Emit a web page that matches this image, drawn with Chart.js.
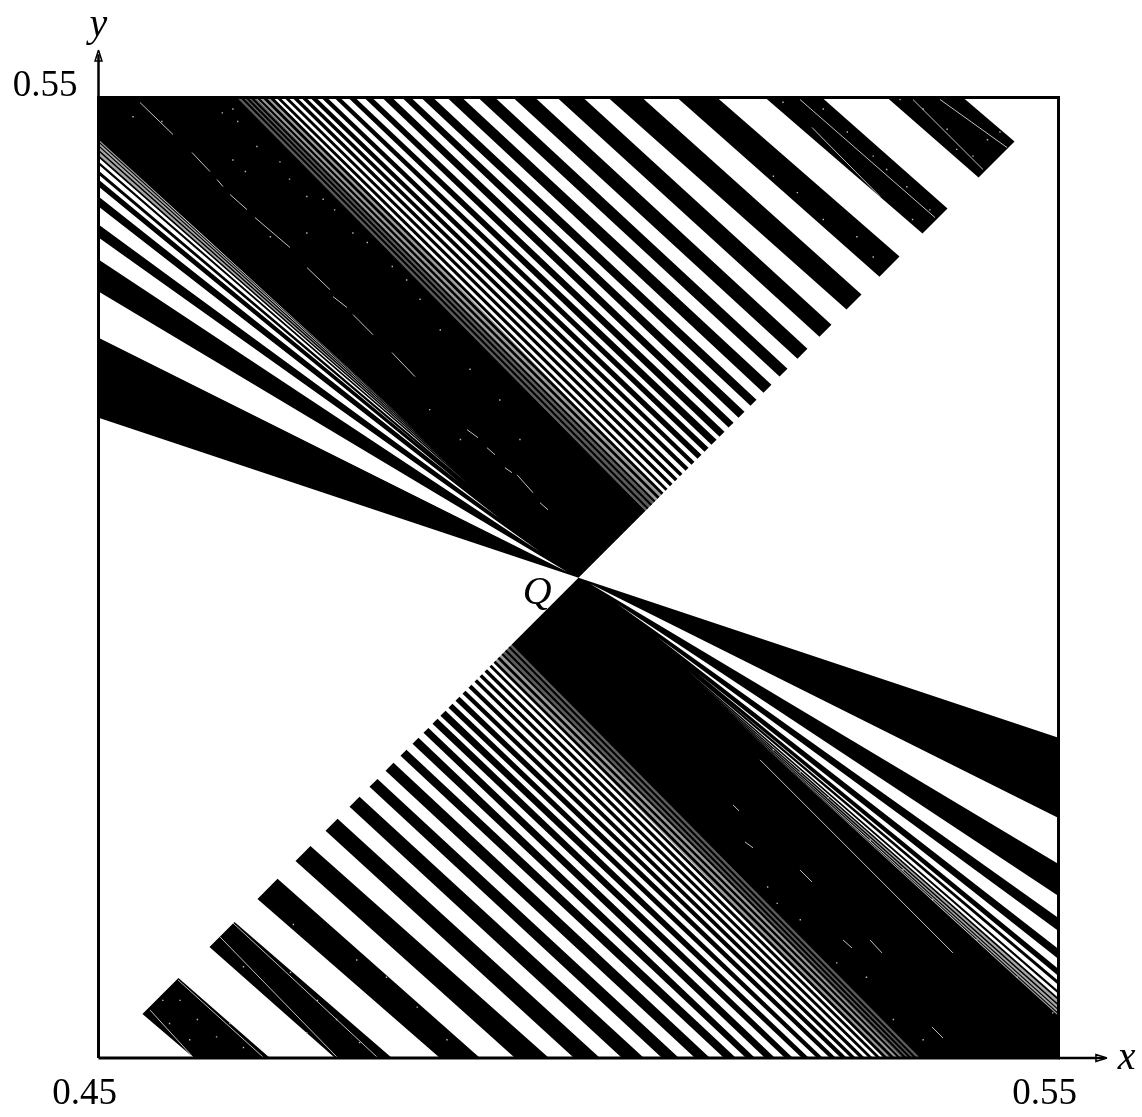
<!DOCTYPE html>
<html>
<head>
<meta charset="utf-8">
<title>Q</title>
<script src="https://cdn.jsdelivr.net/npm/chart.js@4"></script>
<style>
    html, body { margin: 0; padding: 0; background: #fff; }
    canvas { display: block; }
</style>
</head>
<body>
<canvas id="qChart" width="1142" height="1117"></canvas>
<script>
//Axis ticks
const tickValues = [0.45, 0.55];
const tickLabels = ['0.45', '0.55'];

//Upper stripes: where they leave the top edge (x at y = 0.55) and where they stop on the diagonal y = x
const upperTopA = [.54005, .52536, .51443, .50661, .50047, .49547, .49130, .48786, .48484, .48255, .48057, .47849, .47672, .47516, .47380, .47266, .47161, .47068, .46974, .46891, .46818, .46745, .46672, .46609, .46557, .46505];
const upperTopB = [.53214, .51943, .51026, .50307, .49776, .49318, .48953, .48630, .48359, .48161, .47953, .47766, .47599, .47453, .47318, .47203, .47109, .47016, .46932, .46849, .46776, .46703, .46641, .46578, .46526, .46474];
const upperDiagA = [.54542, .53844, .53344, .52948, .52635, .52385, .52177, .52010, .51854, .51729, .51615, .51521, .51438, .51354, .51281, .51208, .51146, .51083, .51031, .50979, .50927, .50885, .50844, .50802, .50766, .50729];
const upperDiagB = [.54167, .53583, .53135, .52792, .52510, .52281, .52094, .51927, .51792, .51667, .51563, .51469, .51385, .51313, .51240, .51177, .51115, .51057, .51005, .50953, .50906, .50865, .50823, .50786, .50750, .50714];

//Lower stripes: same thing from the bottom edge (x at y = 0.45)
const lowerBottomA = [.45995, .47464, .48557, .49339, .49953, .50453, .50870, .51214, .51516, .51745, .51943, .52151, .52328, .52484, .52620, .52734, .52839, .52932, .53026, .53109, .53182, .53255, .53328, .53391, .53443, .53495];
const lowerBottomB = [.46786, .48057, .48974, .49693, .50224, .50682, .51047, .51370, .51641, .51839, .52047, .52234, .52401, .52547, .52682, .52797, .52891, .52984, .53068, .53151, .53224, .53297, .53359, .53422, .53474, .53526];
const lowerDiagA = [.45458, .46156, .46656, .47052, .47365, .47615, .47823, .47990, .48146, .48271, .48385, .48479, .48562, .48646, .48719, .48792, .48854, .48917, .48969, .49021, .49073, .49115, .49156, .49198, .49234, .49271];
const lowerDiagB = [.45833, .46417, .46865, .47208, .47490, .47719, .47906, .48073, .48208, .48333, .48437, .48531, .48615, .48687, .48760, .48823, .48885, .48943, .48995, .49047, .49094, .49135, .49177, .49214, .49250, .49286];

//Solid black parts on each side of Q
const upperMassX = [.46443, .45, .45, .5, .50698];
const upperMassY = [.55, .55, .51667, .5, .50698];
const lowerMassX = [.53557, .55, .55, .5, .49302];
const lowerMassY = [.45, .45, .48333, .5, .49302];

//White wedges cut into the black: left edge (x = 0.45) going to a tip near Q
const leftWedgeA = [.52979, .53542, .53865, .54073, .54198, .54302, .54375, .54438, .54490, .54531, .54563];
const leftWedgeB = [.52500, .53313, .53677, .53969, .54146, .54240, .54333, .54401, .54458, .54505, .54547];
const leftTipX = [.49880, .49599, .49182, .48766, .48453, .48870, .48714, .48557, .48453, .48349, .48245];
const leftTipY = [.50063, .50271, .50615, .50990, .51286, .50960, .51115, .51271, .51379, .51490, .51594];

//White wedges on the right edge (x = 0.55)
const rightWedgeA = [.47021, .46458, .46135, .45927, .45802, .45698, .45625, .45562, .45510, .45469, .45437];
const rightWedgeB = [.47500, .46687, .46323, .46031, .45854, .45760, .45667, .45599, .45542, .45495, .45453];
const rightTipX = [.50120, .50401, .50818, .51234, .51547, .51130, .51286, .51443, .51547, .51651, .51755];
const rightTipY = [.49937, .49729, .49385, .49010, .48714, .49040, .48885, .48729, .48621, .48510, .48406];

//Where the finest stripes read as grey rather than white
const upperBandWideX = [.4644, .46818, .50875, .50698];
const upperBandWideY = [.55, .55, .50875, .50698];
const upperBandNarrowX = [.4644, .46630, .50786, .50698];
const upperBandNarrowY = [.55, .55, .50786, .50698];
const lowerBandWideX = [.5356, .53182, .49125, .49302];
const lowerBandWideY = [.45, .45, .49125, .49302];
const lowerBandNarrowX = [.5356, .53370, .49214, .49302];
const lowerBandNarrowY = [.45, .45, .49214, .49302];
const leftBandX = [.45, .45, .4814];
const leftBandY = [.5457, .5440, .5164];
const rightBandX = [.55, .55, .5186];
const rightBandY = [.4543, .4560, .4836];

//Thin white dashes inside the black
const dashX = [.45432, .45776, null, .45974, .46161, null, .46234, .46297, null, .46370, .46547, null, .46630, .46995, null, .47172, .47411, null, .47443, .47589, null, .47651, .47859, null, .48057, .48297, null, .48839, .48953, null, .49047, .49130, null, .49234, .49307, null, .49359, .49526, null, .49599, .49682, null,
    .52432, .53141, null, .52307, .53714, null, .53766, .54464, null, .53484, .54214, null,
    .51891, .53901, null, .52307, .52432, null, .52755, .52849, null, .53036, .53161, null, .53682, .53797, null, .51609, .51672, null, .51734, .51818, null,
    .46266, .47484, null, .46401, .47901, null, .45536, .45984, null, .45828, .46714];
const dashY = [.54948, .54615, null, .54427, .54229, null, .54146, .54073, null, .53990, .53833, null, .53750, .53438, null, .53229, .53000, null, .52927, .52813, null, .52740, .52531, null, .52344, .52094, null, .51542, .51458, null, .51354, .51281, null, .51146, .51094, null, .51073, .50885, null, .50781, .50708, null,
    .54688, .53969, null, .54979, .53750, null, .54979, .54479, null, .54979, .54250, null,
    .48104, .46094, null, .46958, .46833, null, .46229, .46146, null, .46229, .46094, null, .45323, .45208, null, .47635, .47573, null, .47250, .47188, null,
    .46260, .45010, null, .46406, .45010, null, .45500, .45010, null, .45813, .45010];

//White specks
const speckX = [.4629, .4640, .4645, .4665, .4689, .4699, .4717, .4734, .4746, .4765, .4780, .4806, .4821, .4717, .4679, .4640, .4653, .4536, .4566, .4835, .4856, .4887, .4918, .4939, .4845, .4877,
    .5335, .5359, .5384, .5394, .5411, .5426, .5439, .5213, .5255, .5280, .5307, .5321, .5342, .5366, .5348, .5203, .5228, .5255, .5290, .5307,
    .4567, .4585, .4603, .4623, .4574, .4595, .4637, .4651, .4651, .4700, .4728, .4748, .4717, .4772, .4703, .4769, .4800, .4832, .4863,
    .5203, .5231, .5260, .5304, .5338, .5369, .5415, .5457, .5494, .5231, .5269, .5300, .5328, .5359, .5197, .5207];
const speckY = [.5484, .5488, .5475, .5449, .5433, .5415, .5397, .5394, .5383, .5359, .5349, .5324, .5310, .5359, .5355, .5435, .5423, .5480, .5475, .5290, .5258, .5217, .5185, .5144, .5175, .5144,
    .5498, .5488, .5467, .5446, .5439, .5456, .5464, .5495, .5488, .5464, .5439, .5425, .5407, .5383, .5373, .5418, .5401, .5373, .5355, .5334,
    .4560, .4560, .4540, .4522, .4536, .4519, .4536, .4511, .4595, .4589, .4560, .4540, .4526, .4516, .4639, .4602, .4584, .4553, .4519,
    .4821, .4798, .4771, .4727, .4696, .4665, .4623, .4584, .4547, .4644, .4599, .4584, .4540, .4519, .4678, .4661];

//Frame and axis arrows
const frameX = [.45, .55, .55, .45, .45];
const frameY = [.45, .45, .55, .55, .45];
const xArrowX = [.55, .5548];
const xArrowY = [.45, .45];
const yArrowX = [.45, .45];
const yArrowY = [.55, .5545];
const xHeadX = [.55505, .5539, .5539, .55505];
const xHeadY = [.45, .45036, .44964, .45];
const yHeadX = [.45, .45036, .44964, .45];
const yHeadY = [.55495, .5538, .5538, .55495];

//Letters on the picture
const noteText = ['Q', 'x', 'y'];
const noteX = [.4957, .5571, .45];
const noteY = [.4984, .45, .5575];

function toPoints(xs, ys) {
    return xs.map((x, i) => ({ x: x, y: ys[i] }));
}

function polygon(xs, ys, color, order) {
    return {
        data: toPoints(xs, ys),
        showLine: true,
        fill: 'shape',
        backgroundColor: color,
        borderWidth: 0,
        pointRadius: 0,
        order: order
    };
}

function outline(xs, ys, width, order) {
    return {
        data: toPoints(xs, ys),
        showLine: true,
        fill: false,
        borderColor: '#000',
        borderWidth: width,
        pointRadius: 0,
        clip: false,
        order: order
    };
}

const datasets = [];

//black stripes first, the rest goes on top
upperTopA.forEach((v, i) => {
    datasets.push(polygon([upperTopA[i], upperTopB[i], upperDiagB[i], upperDiagA[i]], [.55, .55, upperDiagB[i], upperDiagA[i]], '#000', 4));
});
lowerBottomA.forEach((v, i) => {
    datasets.push(polygon([lowerBottomA[i], lowerBottomB[i], lowerDiagB[i], lowerDiagA[i]], [.45, .45, lowerDiagB[i], lowerDiagA[i]], '#000', 4));
});
datasets.push(polygon(upperMassX, upperMassY, '#000', 4));
datasets.push(polygon(lowerMassX, lowerMassY, '#000', 4));

leftWedgeA.forEach((v, i) => {
    datasets.push(polygon([.45, .45, leftTipX[i]], [leftWedgeA[i], leftWedgeB[i], leftTipY[i]], '#fff', 3));
});
rightWedgeA.forEach((v, i) => {
    datasets.push(polygon([.55, .55, rightTipX[i]], [rightWedgeA[i], rightWedgeB[i], rightTipY[i]], '#fff', 3));
});

//grey over the finest stripes
datasets.push(polygon(upperBandWideX, upperBandWideY, 'rgba(0, 0, 0, 0.4)', 2.5));
datasets.push(polygon(upperBandNarrowX, upperBandNarrowY, 'rgba(0, 0, 0, 0.4)', 2.5));
datasets.push(polygon(lowerBandWideX, lowerBandWideY, 'rgba(0, 0, 0, 0.4)', 2.5));
datasets.push(polygon(lowerBandNarrowX, lowerBandNarrowY, 'rgba(0, 0, 0, 0.4)', 2.5));
datasets.push(polygon(leftBandX, leftBandY, 'rgba(0, 0, 0, 0.35)', 2.5));
datasets.push(polygon(rightBandX, rightBandY, 'rgba(0, 0, 0, 0.35)', 2.5));

//dashes
datasets.push({
    data: toPoints(dashX, dashY),
    showLine: true,
    spanGaps: false,
    fill: false,
    borderColor: 'rgba(255, 255, 255, 0.75)',
    borderWidth: 1,
    pointRadius: 0,
    order: 2
});

//specks
datasets.push({
    data: toPoints(speckX, speckY),
    showLine: false,
    pointStyle: 'rect',
    pointRadius: 1,
    pointBackgroundColor: '#bbb',
    pointBorderWidth: 0,
    order: 1
});

datasets.push(outline(frameX, frameY, 3, -1));
datasets.push(outline(xArrowX, xArrowY, 2.5, -1));
datasets.push(outline(yArrowX, yArrowY, 2.5, -1));
datasets.push(outline(xHeadX, xHeadY, 1.5, -1));
datasets.push(outline(yHeadX, yHeadY, 1.5, -1));

//Q, x and y are written at their axis values
const notesPlugin = {
    id: 'notes',
    afterDatasetsDraw(chart) {
        const ctx = chart.ctx;
        ctx.save();
        ctx.font = 'italic 40px "Liberation Serif"';
        ctx.fillStyle = '#000';
        ctx.textAlign = 'center';
        ctx.textBaseline = 'middle';
        noteText.forEach((t, i) => {
            ctx.fillText(t, chart.scales.x.getPixelForValue(noteX[i]), chart.scales.y.getPixelForValue(noteY[i]));
        });
        ctx.restore();
    }
};

const tickFont = { family: '"Liberation Serif"', size: 37 };

const qChart = new Chart(document.getElementById('qChart'), {
    type: 'scatter',
    data: { datasets: datasets },
    plugins: [notesPlugin],
    options: {
        responsive: false,
        animation: false,
        events: [],
        layout: { padding: { top: 97.5, right: 83.5, left: 0, bottom: 0 } },
        plugins: {
            legend: { display: false },
            tooltip: { enabled: false }
        },
        scales: {
            x: {
                type: 'linear',
                min: 0.45,
                max: 0.55,
                afterFit: (scale) => { scale.height = 59; },
                afterBuildTicks: (scale) => { scale.ticks = tickValues.map((v) => ({ value: v })); },
                grid: { display: false, drawTicks: false },
                border: { display: false },
                ticks: {
                    autoSkip: false,
                    maxRotation: 0,
                    padding: 14,
                    labelOffset: -14,
                    color: '#000',
                    font: tickFont,
                    callback: (value, index) => tickLabels[index]
                }
            },
            y: {
                type: 'linear',
                min: 0.45,
                max: 0.55,
                afterFit: (scale) => { scale.width = 98.5; },
                afterBuildTicks: (scale) => { scale.ticks = tickValues.slice(1).map((v) => ({ value: v })); },
                grid: { display: false, drawTicks: false },
                border: { display: false },
                ticks: {
                    autoSkip: false,
                    padding: 21,
                    labelOffset: -11,
                    color: '#000',
                    font: tickFont,
                    callback: (value) => tickLabels[1]
                }
            }
        }
    }
});
</script>
</body>
</html>
